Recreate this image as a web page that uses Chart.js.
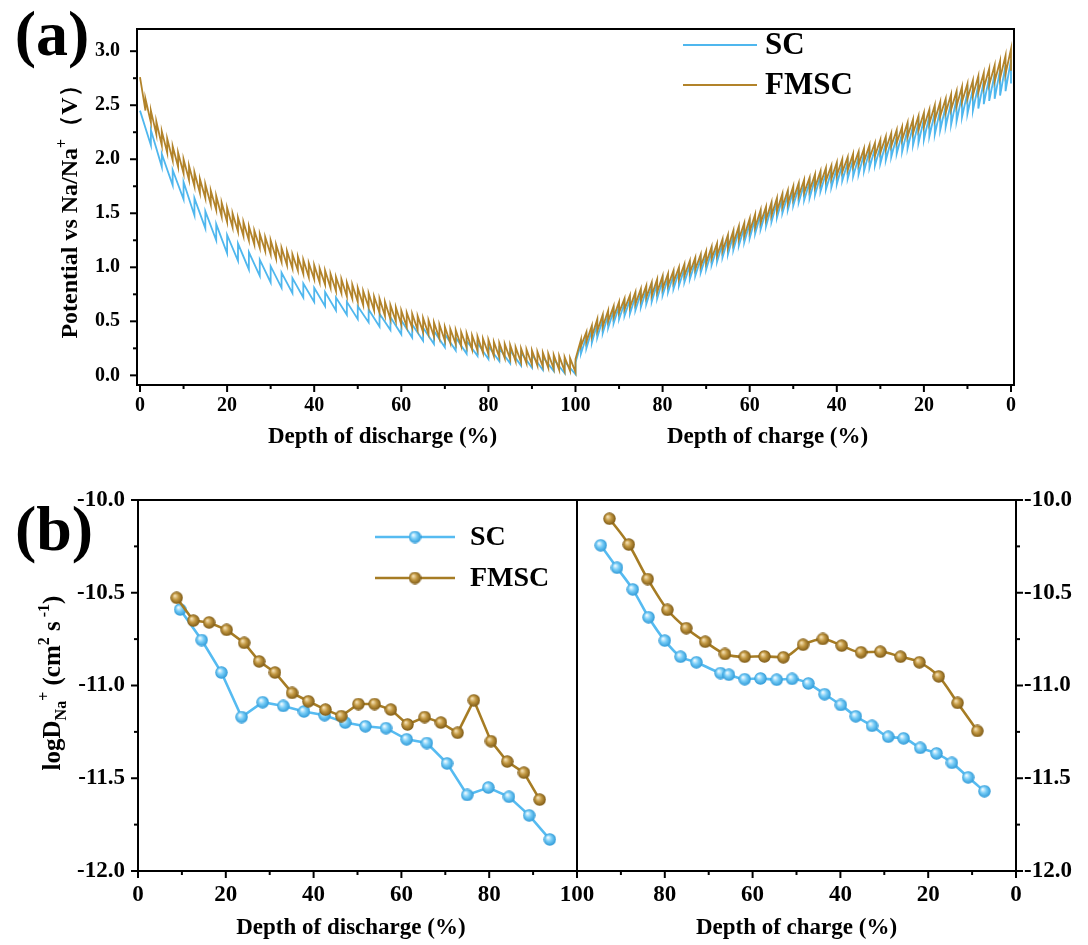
<!DOCTYPE html>
<html><head><meta charset="utf-8">
<script src="https://cdn.jsdelivr.net/npm/chart.js@4.4.1/dist/chart.umd.min.js"></script>
<style>
html,body{margin:0;padding:0;background:#fff;}
#wrap{position:relative;width:1088px;height:945px;overflow:hidden;background:#fff;}
canvas{position:absolute;left:0;}
#ca{top:0;width:1088px;height:460px;}
#cb{top:460px;width:1088px;height:485px;}
</style></head><body>
<div id="wrap"><canvas id="ca" width="1088" height="460"></canvas><canvas id="cb" width="1088" height="485"></canvas></div>
<script>
// ---------------- Panel (a): GITT curves ----------------
// discharge: depth of discharge (%) at each pulse, relaxed voltage (top) and pulse-end voltage (bottom)
const scDisX = [0,2.5,5,7.5,10,12.5,15,17.5,20,22.5,25,27.5,30,32.5,35,37.5,40,42.5,45,47.5,50,52.5,55,57.5,60,62.5,65,67.5,70,72.5,75,77.5,80,82.5,85,87.5,90,92.5,95,97.5,100];
const scDisTop = [2.45,2.27,2.05,1.90,1.79,1.64,1.52,1.40,1.30,1.22,1.14,1.07,1.01,0.95,0.90,0.85,0.81,0.77,0.72,0.68,0.64,0.61,0.57,0.54,0.51,0.47,0.44,0.41,0.38,0.35,0.32,0.30,0.27,0.25,0.23,0.21,0.19,0.17,0.15,0.13,0.12];
const scDisBot = [2.45,2.13,1.93,1.76,1.63,1.48,1.36,1.25,1.13,1.06,0.98,0.92,0.86,0.81,0.76,0.72,0.68,0.64,0.60,0.56,0.52,0.49,0.45,0.42,0.38,0.35,0.32,0.29,0.26,0.23,0.20,0.18,0.15,0.13,0.11,0.09,0.07,0.05,0.04,0.02,0.01];

const fmDisX = [0,1.25,2.5,3.75,5,6.25,7.5,8.75,10,11.25,12.5,13.75,15,16.25,17.5,18.75,20,21.25,22.5,23.75,25,26.25,27.5,28.75,30,31.25,32.5,33.75,35,36.25,37.5,38.75,40,41.25,42.5,43.75,45,46.25,47.5,48.75,50,51.25,52.5,53.75,55,56.25,57.5,58.75,60,61.25,62.5,63.75,65,66.25,67.5,68.75,70,71.25,72.5,73.75,75,76.25,77.5,78.75,80,81.25,82.5,83.75,85,86.25,87.5,88.75,90,91.25,92.5,93.75,95,96.25,97.5,98.75,100];
const fmDisTop = [2.76,2.56,2.45,2.35,2.26,2.19,2.12,2.06,2.00,1.94,
  1.88,1.82,1.77,1.71,1.66,1.60,1.55,1.50,1.46,1.42,
  1.38,1.34,1.31,1.28,1.25,1.21,1.18,1.15,1.12,1.10,
  1.07,1.04,1.02,0.99,0.97,0.94,0.91,0.89,0.86,0.84,
  0.81,0.78,0.76,0.73,0.71,0.68,0.65,0.63,0.60,0.58,
  0.57,0.55,0.53,0.51,0.49,0.47,0.45,0.43,0.42,0.40,
  0.39,0.37,0.36,0.34,0.33,0.31,0.30,0.29,0.28,0.26,
  0.25,0.24,0.23,0.22,0.21,0.20,0.19,0.18,0.17,0.16,0.15];
const fmDisBot = [2.76,2.45,2.34,2.23,2.13,2.06,1.99,1.93,1.87,1.81,
  1.75,1.69,1.64,1.58,1.53,1.47,1.42,1.37,1.33,1.29,
  1.25,1.21,1.18,1.15,1.12,1.08,1.05,1.02,0.99,0.97,
  0.94,0.91,0.89,0.86,0.84,0.81,0.78,0.76,0.73,0.71,
  0.68,0.65,0.63,0.60,0.58,0.55,0.52,0.50,0.47,0.45,
  0.44,0.42,0.40,0.38,0.36,0.34,0.32,0.30,0.29,0.27,
  0.26,0.24,0.23,0.21,0.20,0.18,0.17,0.16,0.15,0.13,
  0.12,0.11,0.10,0.09,0.08,0.07,0.06,0.05,0.04,0.04,0.03];

// charge: position on the shared axis (100 = 100 % depth of charge, 200 = 0 %)
const chgAxisX = [100,101.25,102.5,103.75,105,106.25,107.5,108.75,110,111.25,112.5,113.75,115,116.25,117.5,118.75,120,121.25,122.5,123.75,125,126.25,127.5,128.75,130,131.25,132.5,133.75,135,136.25,137.5,138.75,140,141.25,142.5,143.75,145,146.25,147.5,148.75,150,151.25,152.5,153.75,155,156.25,157.5,158.75,160,161.25,162.5,163.75,165,166.25,167.5,168.75,170,171.25,172.5,173.75,175,176.25,177.5,178.75,180,181.25,182.5,183.75,185,186.25,187.5,188.75,190,191.25,192.5,193.75,195,196.25,197.5,198.75,200];
const scChgLo = [0.12,0.20,0.25,0.30,0.35,0.39,0.44,0.48,0.52,0.55,
  0.57,0.60,0.63,0.66,0.68,0.71,0.74,0.77,0.80,0.83,
  0.86,0.89,0.92,0.95,0.98,1.02,1.05,1.09,1.12,1.16,
  1.20,1.23,1.27,1.31,1.35,1.38,1.42,1.46,1.50,1.53,
  1.57,1.60,1.62,1.64,1.67,1.70,1.72,1.74,1.77,1.80,
  1.82,1.84,1.86,1.89,1.92,1.94,1.96,1.99,2.02,2.05,
  2.07,2.10,2.13,2.15,2.18,2.21,2.23,2.27,2.30,2.32,
  2.35,2.39,2.42,2.45,2.47,2.51,2.54,2.56,2.59,2.63,2.70];
const scChgHi = [0.12,0.29,0.36,0.42,0.48,0.52,0.56,0.60,0.64,0.67,
  0.70,0.73,0.76,0.79,0.82,0.85,0.88,0.90,0.93,0.96,
  0.99,1.02,1.05,1.08,1.11,1.15,1.18,1.22,1.26,1.30,
  1.34,1.37,1.41,1.45,1.49,1.52,1.56,1.60,1.64,1.67,
  1.71,1.74,1.77,1.79,1.82,1.85,1.87,1.89,1.92,1.95,
  1.97,2.00,2.02,2.05,2.08,2.10,2.12,2.15,2.18,2.21,
  2.24,2.28,2.31,2.34,2.37,2.40,2.43,2.46,2.49,2.53,
  2.56,2.59,2.62,2.65,2.69,2.72,2.76,2.79,2.83,2.87,2.92];
const fmChgLo = [0.15,0.27,0.31,0.36,0.41,0.45,0.50,0.54,0.58,0.61,
  0.63,0.66,0.69,0.72,0.74,0.77,0.80,0.83,0.86,0.89,
  0.92,0.95,0.98,1.01,1.04,1.08,1.11,1.15,1.18,1.22,
  1.26,1.29,1.33,1.37,1.41,1.44,1.48,1.52,1.56,1.59,
  1.63,1.66,1.69,1.71,1.74,1.77,1.80,1.82,1.85,1.88,
  1.90,1.93,1.95,1.98,2.01,2.03,2.06,2.09,2.12,2.15,
  2.18,2.21,2.24,2.27,2.30,2.33,2.36,2.40,2.43,2.46,
  2.49,2.53,2.56,2.59,2.62,2.66,2.69,2.72,2.75,2.79,2.82];
const fmChgHi = [0.15,0.33,0.40,0.46,0.52,0.56,0.60,0.64,0.68,0.71,
  0.74,0.77,0.80,0.83,0.86,0.89,0.92,0.94,0.97,1.00,
  1.03,1.06,1.09,1.12,1.15,1.19,1.22,1.26,1.30,1.34,
  1.38,1.41,1.45,1.49,1.53,1.56,1.60,1.64,1.68,1.71,
  1.75,1.78,1.81,1.83,1.86,1.89,1.92,1.94,1.97,2.00,
  2.02,2.05,2.07,2.10,2.13,2.15,2.18,2.21,2.24,2.27,
  2.30,2.34,2.37,2.40,2.43,2.46,2.50,2.53,2.56,2.60,
  2.63,2.67,2.70,2.73,2.77,2.80,2.84,2.87,2.91,2.96,3.02];

// ---------------- Panel (b): diffusion coefficients ----------------
const scDisDepth = [9.6,14.5,19.0,23.6,28.4,33.1,37.8,42.5,47.2,51.8,56.5,61.2,65.8,70.4,75.0,79.8,84.5,89.1,93.8];
const scDisLogD = [-10.59,-10.755,-10.93,-11.17,-11.09,-11.11,-11.14,-11.16,-11.20,-11.22,-11.23,-11.29,-11.31,-11.42,-11.59,-11.55,-11.60,-11.70,-11.83];
const fmDisDepth = [8.8,12.6,16.2,20.2,24.2,27.6,31.2,35.1,38.8,42.7,46.3,50.2,53.9,57.6,61.4,65.3,69.0,72.8,76.5,80.4,84.1,87.9,91.5];
const fmDisLogD = [-10.527,-10.65,-10.66,-10.70,-10.77,-10.87,-10.93,-11.04,-11.085,-11.13,-11.165,-11.10,-11.10,-11.13,-11.21,-11.17,-11.20,-11.255,-11.08,-11.30,-11.41,-11.47,-11.615];
const scChgDepth = [94.6,90.9,87.3,83.7,80.0,76.4,72.8,67.3,65.4,61.8,58.2,54.5,51.0,47.3,43.6,39.9,36.5,32.8,29.1,25.6,21.8,18.1,14.6,10.9,7.2];
const scChgLogD = [-10.244,-10.365,-10.482,-10.632,-10.758,-10.845,-10.875,-10.933,-10.942,-10.966,-10.962,-10.969,-10.964,-10.989,-11.047,-11.105,-11.166,-11.217,-11.276,-11.285,-11.336,-11.366,-11.417,-11.495,-11.570];
const fmChgDepth = [92.6,88.2,83.9,79.4,75.1,70.8,66.3,61.8,57.3,53.0,48.5,44.0,39.7,35.3,30.9,26.3,22.0,17.6,13.3,8.8];
const fmChgLogD = [-10.101,-10.240,-10.426,-10.592,-10.691,-10.764,-10.830,-10.845,-10.843,-10.848,-10.780,-10.749,-10.785,-10.821,-10.818,-10.845,-10.875,-10.951,-11.094,-11.245];

// ---------------- ticks ----------------
const depthTicksMajor = [0,20,40,60,80,100,120,140,160,180,200];
const depthTicksMinor = [10,30,50,70,90,110,130,150,170,190];
const potTicksMajor = [0,0.5,1.0,1.5,2.0,2.5,3.0];
const potTicksMinor = [0.25,0.75,1.25,1.75,2.25,2.75];
const logTicksMajor = [-12,-11.5,-11,-10.5,-10];
const logTicksMinor = [-11.75,-11.25,-10.75,-10.25];
const seriesNames = ['SC','FMSC'];

// ---------------- styling ----------------
const SERIF = "'Liberation Serif','Times New Roman',serif";
const BLUE_A = '#4FB7EE', GOLD_A = '#B2832A';
const BLUE_B = '#56BBF1', GOLD_B = '#A67C24';

const depthLabel = v => String(v <= 100 ? v : 200 - v);

function gittPoints(dX, dTop, dBot, cX, cLo, cHi) {
  const pts = [{x: dX[0], y: dTop[0]}];
  for (let i = 1; i < dX.length; i++) { pts.push({x: dX[i], y: dBot[i]}); pts.push({x: dX[i], y: dTop[i]}); }
  pts.push({x: cX[0], y: cLo[0]});
  for (let i = 1; i < cX.length; i++) { pts.push({x: cX[i], y: cHi[i]}); pts.push({x: cX[i], y: cLo[i]}); }
  return pts;
}

function ball(light, mid, dark) {
  const c = document.createElement('canvas'); c.width = 13; c.height = 13;
  const g = c.getContext('2d');
  const gr = g.createRadialGradient(4.6, 4.4, 0.4, 6.5, 6.5, 6.4);
  gr.addColorStop(0, light); gr.addColorStop(0.45, mid); gr.addColorStop(1, dark);
  g.fillStyle = gr; g.beginPath(); g.arc(6.5, 6.5, 6.2, 0, Math.PI * 2); g.fill();
  return c;
}
const blueBall = ball('#f2fbff', '#78cdf7', '#2b97d6');
const goldBall = ball('#f6e2b6', '#c29842', '#7a5612');

function richText(ctx, segs, cx, cy, rotate) {
  ctx.save();
  ctx.translate(cx, cy);
  if (rotate) ctx.rotate(-Math.PI / 2);
  let total = 0;
  segs.forEach(s => { ctx.font = `bold ${s.size}px ${SERIF}`; s.w = ctx.measureText(s.t).width; total += s.w; });
  let x = -total / 2;
  ctx.fillStyle = '#000';
  ctx.textBaseline = 'alphabetic';
  ctx.textAlign = 'left';
  const base = segs[0].size * 0.33;
  segs.forEach(s => { ctx.font = `bold ${s.size}px ${SERIF}`; ctx.fillText(s.t, x, base + (s.dy || 0)); x += s.w; });
  ctx.restore();
}

function text(ctx, t, x, y, size, align) {
  ctx.save();
  ctx.font = `bold ${size}px ${SERIF}`;
  ctx.fillStyle = '#000';
  ctx.textAlign = align || 'center';
  ctx.textBaseline = 'middle';
  ctx.fillText(t, x, y);
  ctx.restore();
}

function seg(ctx, x1, y1, x2, y2, color, w) {
  ctx.save(); ctx.strokeStyle = color; ctx.lineWidth = w; ctx.beginPath();
  ctx.moveTo(x1, y1); ctx.lineTo(x2, y2); ctx.stroke(); ctx.restore();
}

function drawFrame(chart, yMajor, yMinor, rightTicks, divider) {
  const {ctx, chartArea: a, scales} = chart;
  ctx.save();
  ctx.strokeStyle = '#000'; ctx.lineWidth = 2;
  ctx.strokeRect(a.left, a.top, a.right - a.left, a.bottom - a.top);
  if (divider) {
    const p = scales.x.getPixelForValue(100);
    seg(ctx, p, a.top, p, a.bottom, '#000', 2);
  }
  depthTicksMajor.forEach(v => { const p = scales.x.getPixelForValue(v); seg(ctx, p, a.bottom, p, a.bottom + 7, '#000', 2); });
  depthTicksMinor.forEach(v => { const p = scales.x.getPixelForValue(v); seg(ctx, p, a.bottom, p, a.bottom + 4, '#000', 2); });
  yMajor.forEach(v => { const p = scales.y.getPixelForValue(v); seg(ctx, a.left - 7, p, a.left, p, '#000', 2);
    if (rightTicks) seg(ctx, a.right, p, a.right + 7, p, '#000', 2); });
  yMinor.forEach(v => { const p = scales.y.getPixelForValue(v); seg(ctx, a.left - 4, p, a.left, p, '#000', 2);
    if (rightTicks) seg(ctx, a.right, p, a.right + 4, p, '#000', 2); });
  ctx.restore();
}

const hiddenGrid = {display: true, drawOnChartArea: false, drawTicks: false, color: 'rgba(0,0,0,0)'};

// ---------------- Chart (a) ----------------
new Chart(document.getElementById('ca'), {
  type: 'line',
  data: {datasets: [
    {label: seriesNames[0], data: gittPoints(scDisX, scDisTop, scDisBot, chgAxisX, scChgLo, scChgHi),
     borderColor: BLUE_A, borderWidth: 1.8, pointRadius: 0, tension: 0, order: 1},
    {label: seriesNames[1], data: gittPoints(fmDisX, fmDisTop, fmDisBot, chgAxisX, fmChgLo, fmChgHi),
     borderColor: GOLD_A, borderWidth: 1.8, pointRadius: 0, tension: 0, order: 0}
  ]},
  options: {
    responsive: false, animation: false, devicePixelRatio: 1,
    layout: {padding: {top: 16, right: 74, left: 0, bottom: 0}},
    plugins: {legend: {display: false}, tooltip: {enabled: false}},
    scales: {
      x: {type: 'linear', min: -0.69, max: 200.69,
        afterFit: s => { s.height = 75; },
        afterBuildTicks: s => { s.ticks = depthTicksMajor.map(v => ({value: v})); },
        grid: hiddenGrid, border: {display: false},
        ticks: {autoSkip: false, maxRotation: 0, padding: 9, color: '#000',
          font: {family: SERIF, size: 20, weight: 'bold'}, callback: v => depthLabel(v)}},
      y: {type: 'linear', min: -0.0893, max: 3.2054,
        afterFit: s => { s.width = 137; },
        afterBuildTicks: s => { s.ticks = potTicksMajor.map(v => ({value: v})); },
        grid: hiddenGrid, border: {display: false},
        ticks: {autoSkip: false, padding: 17, color: '#000',
          font: {family: SERIF, size: 20, weight: 'bold'}, callback: v => Number(v).toFixed(1)}}
    }
  },
  plugins: [{
    id: 'decorA',
    afterDatasetsDraw(chart) { drawFrame(chart, potTicksMajor, potTicksMinor, false, false); },
    afterDraw(chart) {
      const {ctx, scales} = chart;
      text(ctx, 'Depth of discharge (%)', scales.x.getPixelForValue(55.7), 437, 23);
      text(ctx, 'Depth of charge (%)', scales.x.getPixelForValue(144.1), 437, 23);
      richText(ctx, [{t: 'Potential vs Na/Na', size: 24}, {t: '+', size: 16, dy: -10}, {t: '（V）', size: 24}], 69, 206, true);
      text(ctx, '(a)', 52, 38, 64);
      // legend
      seg(ctx, 683, 45, 757, 45, BLUE_A, 2.2);
      seg(ctx, 683, 85, 757, 85, GOLD_A, 2.2);
      text(ctx, seriesNames[0], 765, 46, 31, 'left');
      text(ctx, seriesNames[1], 765, 86, 31, 'left');
    }
  }]
});

// ---------------- Chart (b) ----------------
const pts = (xs, ys, flip) => xs.map((v, i) => ({x: flip ? 200 - v : v, y: ys[i]}));
const lineB = (label, data, color, ballImg, smooth, order) => ({
  label, data, borderColor: color, borderWidth: 2.6, pointStyle: ballImg, pointRadius: 6.5,
  tension: 0, cubicInterpolationMode: smooth ? 'monotone' : 'default', order
});
new Chart(document.getElementById('cb'), {
  type: 'line',
  data: {datasets: [
    lineB(seriesNames[0], pts(scDisDepth, scDisLogD, false), BLUE_B, blueBall, false, 1),
    lineB(seriesNames[0], pts(scChgDepth, scChgLogD, true), BLUE_B, blueBall, true, 1),
    lineB(seriesNames[1], pts(fmDisDepth, fmDisLogD, false), GOLD_B, goldBall, false, 0),
    lineB(seriesNames[1], pts(fmChgDepth, fmChgLogD, true), GOLD_B, goldBall, true, 0)
  ]},
  options: {
    responsive: false, animation: false, devicePixelRatio: 1,
    layout: {padding: {top: 40, right: 0, left: 0, bottom: 0}},
    plugins: {legend: {display: false}, tooltip: {enabled: false}},
    scales: {
      x: {type: 'linear', min: 0, max: 200,
        afterFit: s => { s.height = 74; },
        afterBuildTicks: s => { s.ticks = depthTicksMajor.map(v => ({value: v})); },
        grid: hiddenGrid, border: {display: false},
        ticks: {autoSkip: false, maxRotation: 0, padding: 10, color: '#000',
          font: {family: SERIF, size: 23, weight: 'bold'}, callback: v => depthLabel(v)}},
      y: {type: 'linear', position: 'left', min: -12, max: -10,
        afterFit: s => { s.width = 138; },
        afterBuildTicks: s => { s.ticks = logTicksMajor.map(v => ({value: v})); },
        grid: hiddenGrid, border: {display: false},
        ticks: {autoSkip: false, padding: 13, color: '#000',
          font: {family: SERIF, size: 23, weight: 'bold'}, callback: v => Number(v).toFixed(1)}},
      y2: {type: 'linear', position: 'right', display: true, min: -12, max: -10,
        afterFit: s => { s.width = 72; },
        afterBuildTicks: s => { s.ticks = logTicksMajor.map(v => ({value: v})); },
        grid: hiddenGrid, border: {display: false},
        ticks: {autoSkip: false, padding: 8, color: '#000',
          font: {family: SERIF, size: 23, weight: 'bold'}, callback: v => Number(v).toFixed(1)}}
    }
  },
  plugins: [{
    id: 'decorB',
    beforeDatasetsDraw(chart) { drawFrame(chart, logTicksMajor, logTicksMinor, true, true); },
    afterDraw(chart) {
      const {ctx, scales} = chart;
      text(ctx, 'Depth of discharge (%)', scales.x.getPixelForValue(48.5), 468, 23);
      text(ctx, 'Depth of charge (%)', scales.x.getPixelForValue(150), 468, 23);
      richText(ctx, [{t: 'logD', size: 25}, {t: 'Na', size: 16, dy: 6}, {t: '+', size: 16, dy: -11},
        {t: ' (cm', size: 25}, {t: '2', size: 16, dy: -11}, {t: ' s', size: 25}, {t: ' -1', size: 16, dy: -11}, {t: ')', size: 25}], 52, 223, true);
      text(ctx, '(b)', 54, 73, 64);
      seg(ctx, 375, 77, 455, 77, BLUE_B, 2.6);
      seg(ctx, 375, 118, 455, 118, GOLD_B, 2.6);
      ctx.drawImage(blueBall, 415 - 6.5, 77 - 6.5);
      ctx.drawImage(goldBall, 415 - 6.5, 118 - 6.5);
      text(ctx, seriesNames[0], 470, 78, 28, 'left');
      text(ctx, seriesNames[1], 470, 119, 28, 'left');
    }
  }]
});
</script>
</body></html>
